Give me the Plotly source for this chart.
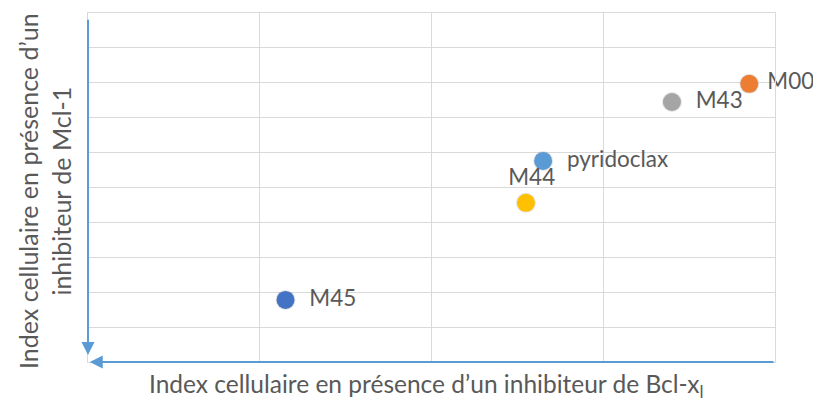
import plotly.graph_objects as go

# Compound positions: x = index with Bcl-xL inhibitor, y = index with Mcl-1 inhibitor
compounds = ["M45", "M44", "pyridoclax", "M43", "M00"]
x_index = [1.15, 2.55, 2.65, 3.40, 3.85]
y_index = [1.78, 4.56, 5.76, 7.45, 7.97]
colors = ["#4472c4", "#ffc000", "#5b9bd5", "#a5a5a5", "#ed7d31"]
label_pos = ["middle right", "top center", "middle right", "middle right", "middle right"]
labels = ["  M45", "  M44", "  pyridoclax", "  M43", " M00"]

x_title = "Index cellulaire en présence d’un inhibiteur de Bcl-x<sub>l</sub>"
y_title = "Index cellulaire en présence d’un<br>inhibiteur de Mcl-1"

axis_blue = "#5b9bd5"
grid = "#d9d9d9"
font_family = "Lato, Open Sans, sans-serif"

fig = go.Figure()

# soft shadow under each marker
fig.add_trace(go.Scatter(
    x=x_index, y=y_index, mode="markers",
    marker=dict(size=20, color="rgba(0,0,0,0.10)", line=dict(width=0)),
    hoverinfo="skip", showlegend=False, cliponaxis=False,
))
fig.add_trace(go.Scatter(
    x=x_index, y=y_index, mode="markers+text",
    marker=dict(size=18, color=colors, line=dict(width=0)),
    text=labels, textposition=label_pos,
    textfont=dict(size=22.5, color="#595959", family=font_family),
    showlegend=False, cliponaxis=False,
))

fig.update_xaxes(range=[0, 4], dtick=1, showticklabels=False, ticks="",
                 showgrid=True, gridcolor=grid, gridwidth=1, zeroline=False,
                 showline=True, mirror=True, linecolor=grid, linewidth=1)
fig.update_yaxes(range=[0, 10], dtick=1, showticklabels=False, ticks="",
                 showgrid=True, gridcolor=grid, gridwidth=1, zeroline=False,
                 showline=True, mirror=True, linecolor=grid, linewidth=1)

annotations = [
    # vertical axis arrow pointing down
    dict(x=0, y=0.2, xref="x", yref="y", ax=0, ay=9.85, axref="x", ayref="y",
         showarrow=True, arrowhead=2, arrowsize=1.3, arrowwidth=2,
         arrowcolor=axis_blue, text=""),
    # horizontal axis arrow pointing left
    dict(x=0.01, y=0, xref="x", yref="y", ax=4, ay=0, axref="x", ayref="y",
         showarrow=True, arrowhead=2, arrowsize=1.3, arrowwidth=2,
         arrowcolor=axis_blue, text=""),
    # axis titles
    dict(x=0.493, y=-0.066, xref="paper", yref="paper", xanchor="center", yanchor="middle",
         text=x_title, showarrow=False,
         font=dict(size=24.5, color="#595959", family=font_family)),
    dict(x=-0.0626, y=0.49, xref="paper", yref="paper", xanchor="center", yanchor="middle",
         text=y_title, showarrow=False, textangle=-90,
         font=dict(size=25, color="#595959", family=font_family)),
]

fig.update_layout(
    width=813, height=403,
    margin=dict(l=88, r=38, t=13, b=41),
    paper_bgcolor="white", plot_bgcolor="white",
    annotations=annotations,
)

fig.write_html("out.html")
